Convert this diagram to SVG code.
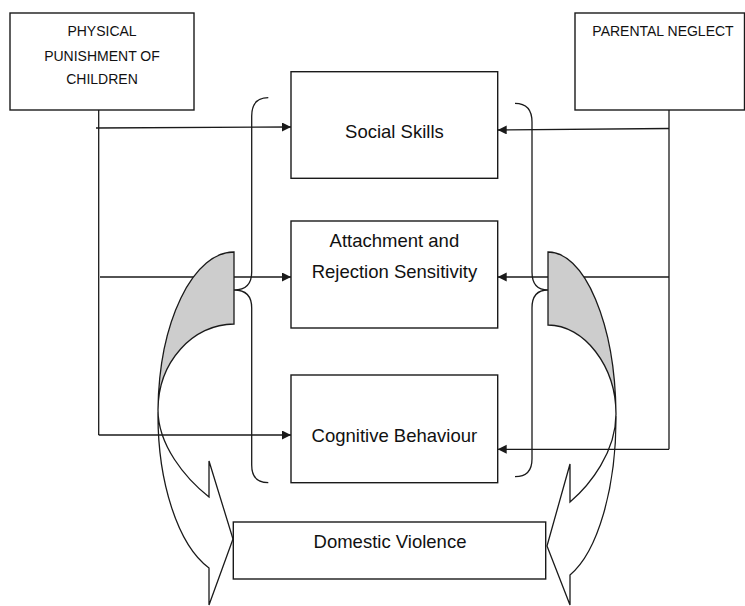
<svg xmlns="http://www.w3.org/2000/svg" width="745" height="606" viewBox="0 0 745 606">
<defs>
<style>
.box{fill:#fff;stroke:#1a1a1a;stroke-width:1.4}
.ln{fill:none;stroke:#1a1a1a;stroke-width:1.3}
.arr{fill:none;stroke:#1a1a1a;stroke-width:1.3;marker-end:url(#ah)}
.gray{fill:#cdcdcd;stroke:#1a1a1a;stroke-width:1.3}
.t{font-family:"Liberation Sans",Arial,sans-serif;fill:#111;text-anchor:middle}
.s{font-size:14px}
.m{font-size:18.5px}
</style>
<marker id="ah" markerUnits="userSpaceOnUse" markerWidth="10" markerHeight="10" refX="9" refY="4.5" orient="auto">
<path d="M0,0 L9,4.5 L0,9 Z" fill="#1a1a1a"/>
</marker>
</defs>
<rect width="745" height="606" fill="#fff"/>

<g id="connectors">
<path class="ln" d="M98.7,110 V435"/>
<path class="arr" d="M96,128 L291,127"/>
<path class="arr" d="M100,277 H291"/>
<path class="arr" d="M98.7,435 H291"/>
<path class="ln" d="M669,110 V449.3"/>
<path class="arr" d="M669,128.5 L497.7,130"/>
<path class="arr" d="M669,277 H497.7"/>
<path class="arr" d="M669,449.3 H497.7"/>
</g>

<g id="braces">
<path class="ln" d="M268.3,97.7 Q251.7,97.7 251.7,116 V272 Q251.7,290 234,290 Q251.7,290 251.7,308 V465 Q251.7,482.7 268.3,482.7"/>
<path class="ln" d="M515,103.3 Q532,103.3 532,122 V272 Q532,290 548,290 Q532,290 532,308 V459 Q532,476.7 515,476.7"/>
</g>

<g id="curved-arrow-left">
<path class="gray" d="M234,252 A76,162 0 0 0 158,410 C158,362 193,324 234,324 Z"/>
<path class="ln" d="M158,410 C158,445 185,478 209,497 L209,461 L233,539 L209,605 L209,568 A76,162 0 0 1 158,412"/>
</g>

<g id="curved-arrow-right">
<path class="gray" d="M548,252 A68,166 0 0 1 616,414 C616,366 584,325 548,325 Z"/>
<path class="ln" d="M616,414 C616,452 590,485 570,502 L570,464 L547,546 L570,605 L570,575 A68,166 0 0 0 616,416"/>
</g>

<g id="physical-punishment">
<rect class="box" x="10" y="13" width="184" height="97"/>
<text class="t s" x="102" y="36">PHYSICAL</text>
<text class="t s" x="102" y="60.5">PUNISHMENT OF</text>
<text class="t s" x="102" y="83.5">CHILDREN</text>
</g>

<g id="parental-neglect">
<rect class="box" x="575" y="13" width="169.5" height="97"/>
<text class="t s" x="663" y="36">PARENTAL NEGLECT</text>
</g>

<g id="social-skills">
<rect class="box" x="291" y="71.7" width="206.7" height="106.6"/>
<text class="t m" x="394.4" y="138">Social Skills</text>
</g>

<g id="attachment">
<rect class="box" x="291" y="221" width="206.7" height="107"/>
<text class="t m" x="394.4" y="247">Attachment and</text>
<text class="t m" x="394.4" y="278">Rejection Sensitivity</text>
</g>

<g id="cognitive">
<rect class="box" x="291" y="375" width="206.7" height="107.7"/>
<text class="t m" x="394.4" y="441.7">Cognitive Behaviour</text>
</g>

<g id="domestic-violence">
<rect class="box" x="233.3" y="522" width="312.4" height="57"/>
<text class="t m" x="390" y="548">Domestic Violence</text>
</g>
</svg>
